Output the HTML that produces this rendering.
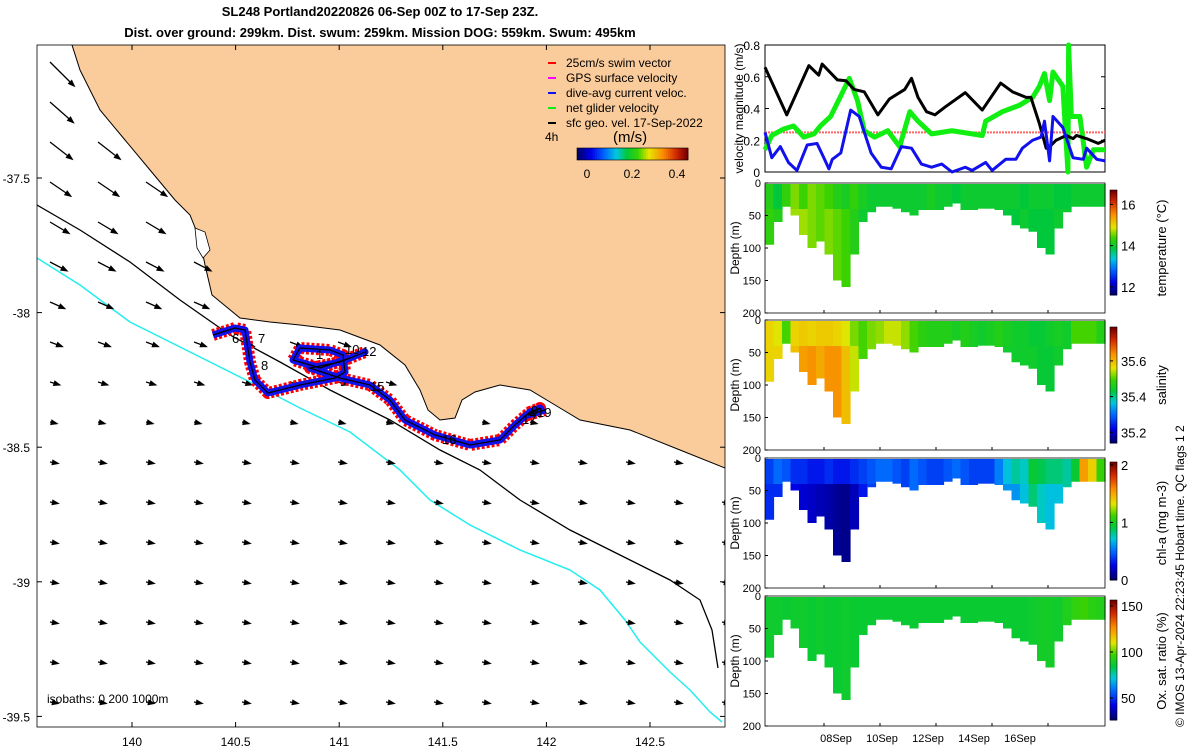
<!DOCTYPE html>
<html><head><meta charset="utf-8"><style>
body{margin:0;background:#fff;width:1200px;height:750px;overflow:hidden;font-family:"Liberation Sans",sans-serif}
svg text{font-family:"Liberation Sans",sans-serif}
</style></head><body>
<svg id="s" width="1200" height="750" xmlns="http://www.w3.org/2000/svg">
<g font-weight="bold" font-size="13" text-anchor="middle">
<text x="380" y="16">SL248 Portland20220826 06-Sep 00Z to 17-Sep 23Z.</text>
<text x="380" y="37">Dist. over ground: 299km. Dist. swum: 259km. Mission DOG: 559km. Swum: 495km</text>
</g>
<g id="map"></g>
<g id="line"></g>
<g id="heat"></g>
<text transform="translate(1184,727) rotate(-90)" font-size="12">© IMOS 13-Apr-2024 22:23:45 Hobart time. QC flags 1  2</text>
</svg>
<script>
const NS="http://www.w3.org/2000/svg";
function mk(p,t,a){const e=document.createElementNS(NS,t);for(const k in a)e.setAttribute(k,a[k]);p.appendChild(e);return e;}
const CM=[[0,0,0,110],[.12,0,0,230],[.25,0,110,255],[.35,0,200,220],[.45,0,200,60],[.55,60,210,0],[.65,230,230,0],[.78,250,140,0],[.9,210,40,0],[1,120,0,0]];
function jet(v){v=Math.max(0,Math.min(1,v));for(let i=0;i<CM.length-1;i++){const a=CM[i],b=CM[i+1];if(v<=b[0]){const f=(v-a[0])/(b[0]-a[0]);return `rgb(${Math.round(a[1]+(b[1]-a[1])*f)},${Math.round(a[2]+(b[2]-a[2])*f)},${Math.round(a[3]+(b[3]-a[3])*f)})`;}}return 'rgb(120,0,0)';}

// ---------- velocity chart data ----------
const blackT=[0,.064,.129,.158,.168,.213,.238,.262,.292,.332,.366,.411,.431,.450,.475,.500,.530,.589,.639,.693,.728,.768,.782,.807,.827,.842,.856,.886,.906,.916,.946,.980,1];
const blackV=[.66,.36,.67,.61,.68,.58,.575,.52,.505,.36,.46,.52,.59,.47,.38,.36,.41,.50,.39,.56,.505,.47,.47,.305,.15,.17,.2,.23,.21,.23,.21,.18,.2];
const blueT=[0,.02,.045,.069,.094,.124,.153,.173,.188,.198,.223,.252,.277,.312,.342,.371,.401,.431,.460,.490,.520,.550,.589,.609,.649,.668,.708,.738,.757,.787,.812,.822,.837,.847,.876,.906,.936,.946,.976,1];
const blueV=[.25,.09,.16,.06,.01,.17,.18,.09,.02,.08,.12,.39,.35,.12,.03,.02,.16,.15,.05,.03,.05,0,.03,.01,.06,.01,.08,.08,.15,.2,.22,.32,.07,.35,.28,.09,.08,.15,.08,.07];
const greenT=[0,.02,.054,.084,.114,.144,.163,.193,.223,.248,.272,.292,.322,.361,.396,.426,.450,.490,.550,.609,.639,.649,.698,.748,.787,.807,.822,.837,.847,.876,.891,.893,.901,.926,.946,.966,1];
const greenV=[.14,.23,.27,.29,.22,.24,.29,.35,.48,.59,.45,.26,.22,.26,.16,.38,.32,.24,.26,.24,.23,.32,.38,.42,.47,.54,.62,.45,.63,.54,0,.8,.35,.35,.03,.14,.14];
const vTicks=[0,0.2,0.4,0.6,0.8];
(function(){
 const g=document.getElementById('line');const X0=765,X1=1105,Y0=172,Y1=45;
 const xs=t=>X0+t*(X1-X0), ys=v=>Y0-(v/0.8)*(Y0-Y1);
 mk(g,'rect',{x:X0,y:Y1,width:X1-X0,height:Y0-Y1,fill:'#fff',stroke:'#000','stroke-width':1});
 vTicks.forEach(v=>{const t=mk(g,'text',{x:X0-5,y:ys(v)+5,'text-anchor':'end','font-size':12});t.textContent=v;
  mk(g,'line',{x1:X0,x2:X0+4,y1:ys(v),y2:ys(v),stroke:'#000'});mk(g,'line',{x1:X1,x2:X1-4,y1:ys(v),y2:ys(v),stroke:'#000'});});
 const yl=mk(g,'text',{transform:`translate(743,${(Y0+Y1)/2}) rotate(-90)`,'text-anchor':'middle','font-size':12});yl.textContent='velocity magnitude (m/s)';
 
 const rl=mk(g,'line',{x1:X0,x2:X1,y1:ys(.25),y2:ys(.25),stroke:'#f66',"stroke-width":2,"stroke-dasharray":"2 1"});
 function pl(T,V,c,w,n){const p=mk(g,'polyline',{points:T.map((t,i)=>xs(t)+','+ys(V[i])).join(' '),fill:'none',stroke:c,'stroke-width':w,'stroke-linejoin':'round'});}
 pl(greenT,greenV,'#1e1',5,'net-glider-velocity-line');
 pl(blackT,blackV,'#000',3,'surface-geo-velocity-line');
 pl(blueT,blueV,'#11e',3,'dive-avg-current-line');
})();

// ---------- sections ----------
const maxDepth=[95,60,35,50,80,100,90,110,150,160,110,60,45,35,35,38,45,50,40,40,40,35,30,40,40,38,38,40,50,65,70,75,100,110,70,45,35,35,35,35];
const tempSurf=[14.2,13.9,14.3,14.6,14.4,14.6,14.5,14.4,14.2,14.1,14.3,14.1,14.0,14.0,14.0,14.0,14.0,14.0,14.0,14.1,14.0,14.0,13.9,14.0,14.0,14.0,14.0,14.0,14.0,14.0,13.9,14.0,14.0,14.0,13.9,13.9,14.0,14.0,14.0,14.0];
const tempDeep=[14.3,14.2,14.4,14.7,14.7,14.6,14.5,14.6,14.5,14.4,14.2,14.0,14,14,14,14,14,14,14,14,14,14,14,14,14,14,14,14,13.9,13.9,14,13.9,13.9,13.9,14,14,14,14,14,14];
const salSurf=[35.58,35.56,35.5,35.58,35.59,35.58,35.59,35.59,35.58,35.56,35.52,35.5,35.52,35.53,35.55,35.55,35.53,35.5,35.48,35.47,35.47,35.47,35.46,35.47,35.46,35.45,35.46,35.47,35.46,35.45,35.45,35.44,35.44,35.45,35.46,35.45,35.5,35.5,35.5,35.47];
const salDeep=[35.58,35.58,35.55,35.6,35.63,35.64,35.62,35.64,35.64,35.6,35.55,35.5,35.52,35.53,35.55,35.55,35.53,35.5,35.48,35.47,35.47,35.47,35.46,35.47,35.46,35.45,35.46,35.47,35.45,35.45,35.45,35.45,35.44,35.44,35.45,35.45,35.5,35.5,35.5,35.47];
const chlSurf=[.4,.5,.45,.35,.35,.3,.3,.35,.3,.3,.35,.4,.45,.5,.5,.45,.4,.5,.45,.4,.4,.45,.5,.45,.4,.4,.4,.55,.7,.8,.75,.95,.9,.85,.85,.8,.95,1.55,1.4,1.1];
const chlDeep=[.35,.35,.3,.25,.2,.18,.15,.12,.08,.06,.15,.3,.4,.45,.5,.45,.4,.5,.45,.4,.4,.45,.5,.45,.4,.4,.4,.5,.6,.6,.7,.85,.75,.7,.7,.8,.95,1.5,1.3,1.1];
const oxSurf=[88,88,87,88,88,87,88,87,87,88,87,87,87,87,87,87,87,87,87,87,87,87,87,87,87,87,87,87,87,87,87,88,89,89,88,92,95,97,94,92];
const depthTicks=[0,50,100,150,200];
const dateLabels=['08Sep','10Sep','12Sep','14Sep','16Sep'];
const dateDays=[8,10,12,14,16];
(function(){
 const g=document.getElementById('heat');const X0=765,X1=1105;
 const panels=[
  {y:183,s:tempSurf,d:tempDeep,lo:11.6,hi:16.7,c0:190,c1:295,ticks:[12,14,16],lab:'temperature (°C)',n:'temperature'},
  {y:320,s:salSurf,d:salDeep,lo:35.14,hi:35.79,c0:327,c1:443,ticks:[35.2,35.4,35.6],lab:'salinity',n:'salinity'},
  {y:458,s:chlSurf,d:chlDeep,lo:0,hi:2.05,c0:462,c1:580,ticks:[0,1,2],lab:'chl-a (mg m-3)',n:'chlorophyll'},
  {y:596,s:oxSurf,d:oxSurf,lo:26,hi:156.5,c0:600,c1:720,ticks:[50,100,150],lab:'Ox. sat. ratio (%)',n:'oxygen'}];
 const H=130,cw=(X1-X0)/maxDepth.length;
 const dx=d=>836+(d-8)*23, tx=d=>824+(d-8)*28;
 panels.forEach((p,pi)=>{
  const pg=mk(g,'g',{});
  const ys=d=>p.y+d/200*H;
  mk(pg,'rect',{x:X0,y:p.y,width:X1-X0,height:H,fill:'#fff'});
  const n=(v)=>(v-p.lo)/(p.hi-p.lo);
  maxDepth.forEach((md,i)=>{
   const x=X0+i*cw;
   const c1=mk(pg,'rect',{x:x,y:p.y+1,width:cw+0.6,height:Math.min(md,40)/200*H,fill:jet(n(p.s[i]))});
   
   if(md>40){const c2=mk(pg,'rect',{x:x,y:ys(40),width:cw+0.6,height:(md-40)/200*H,fill:jet(n(p.d[i]))});
    }
  });
  mk(pg,'rect',{x:X0,y:p.y,width:X1-X0,height:H,fill:'none',stroke:'#000','stroke-width':.8});
  depthTicks.forEach(d=>{const t=mk(pg,'text',{x:X0-4,y:ys(d)+4,'text-anchor':'end','font-size':11});t.textContent=d;
   
   mk(pg,'line',{x1:X0,x2:X0+3,y1:ys(d),y2:ys(d),stroke:'#000'});});
  dateDays.forEach(d=>mk(pg,'line',{x1:tx(d),x2:tx(d),y1:p.y+H,y2:p.y+H-3,stroke:'#000'}));
  const yl=mk(pg,'text',{transform:`translate(739,${p.y+H/2}) rotate(-90)`,'text-anchor':'middle','font-size':12});yl.textContent='Depth (m)';
  
  const cy0=p.c0,cy1=p.c1;
  for(let k=0;k<60;k++){mk(pg,'rect',{x:1110,y:cy1-(k+1)*(cy1-cy0)/60,width:7,height:(cy1-cy0)/60+0.5,fill:jet(k/59)});}
  const cb=mk(pg,'rect',{x:1110,y:cy0,width:7,height:cy1-cy0,fill:'none',stroke:'#000','stroke-width':.6});
  
  p.ticks.forEach(t=>{const yy=cy1-(t-p.lo)/(p.hi-p.lo)*(cy1-cy0);
   mk(pg,'line',{x1:1110,x2:1113,y1:yy,y2:yy,stroke:'#000'});
   const tt=mk(pg,'text',{x:1121,y:yy+5,'font-size':13});tt.textContent=t;});
  const cl=mk(pg,'text',{transform:`translate(1166,${p.y+H/2}) rotate(-90)`,'text-anchor':'middle','font-size':13});cl.textContent=p.lab;
  
 });
 dateLabels.forEach((l,i)=>{const t=mk(g,'text',{x:dx(dateDays[i]),y:742,'text-anchor':'middle','font-size':11});t.textContent=l;
  });
})();

// ---------- map ----------
const coast=[[72,45],[80,70],[100,110],[125,140],[150,170],[175,200],[190,215],[200,240],[205,265],[212,295],[240,318],[270,322],[300,325],[340,330],[380,345],[405,365],[420,390],[428,410],[440,420],[455,418],[462,400],[475,392],[500,385],[530,390],[555,405],[580,420],[630,430],[680,450],[725,468]];
const iso200=[[37,205],[80,230],[130,262],[180,300],[230,335],[280,362],[330,390],[390,420],[440,450],[480,470],[520,500],[570,530],[620,555],[670,580],[700,600],[712,630],[718,668]];
const iso1000=[[37,258],[80,285],[130,322],[190,352],[250,382],[300,408],[350,432],[400,470],[430,500],[470,525],[520,550],[570,570],[600,590],[625,620],[640,642],[670,672],[690,690],[710,712],[722,722]];
const track=[[213,335],[235,328],[245,330],[250,362],[255,380],[268,393],[300,385],[335,378],[345,372],[343,355],[330,350],[300,348],[293,360],[320,368],[350,358],[365,352],[340,362],[310,368],[340,378],[370,385],[390,400],[405,420],[435,435],[470,445],[500,440],[515,425],[530,412],[540,408],[528,415],[545,410]];
const xTicks=[140,140.5,141,141.5,142,142.5];
const yTicks=[-37.5,-38,-38.5,-39,-39.5];
(function(){
 const g=document.getElementById('map');const L=37,R=725,T=45,B=727;
 const lx=v=>132+(v-140)*207.2, ly=v=>178+(-37.5-v)*269.2;
 const cl=mk(g,'clipPath',{id:'mc'});mk(cl,'rect',{x:L,y:T,width:R-L,height:B-T});
 const inner=mk(g,'g',{'clip-path':'url(#mc)'});
 mk(inner,'rect',{x:L,y:T,width:R-L,height:B-T,fill:'#fff'});
 const land=mk(inner,'polygon',{points:coast.map(p=>p.join(',')).join(' ')+` ${R+5},468 ${R+5},${T-5} 72,${T-5}`,fill:'#FACB9B',stroke:'#000','stroke-width':1});
 
 const isl=mk(inner,'path',{d:'M195,228 L205,232 L210,250 L203,258 L197,248 Z',fill:'#fff',stroke:'#000','stroke-width':.8});
 
 const i2=mk(inner,'polyline',{points:iso200.map(p=>p.join(',')).join(' '),fill:'none',stroke:'#000','stroke-width':1.3});
 
 const i1=mk(inner,'polyline',{points:iso1000.map(p=>p.join(',')).join(' '),fill:'none',stroke:'#2ee',"stroke-width":1.5});
 
 function coastY(x){for(let i=0;i<coast.length-1;i++){if(x>=coast[i][0]&&x<=coast[i+1][0]){const a=coast[i],b=coast[i+1];return a[1]+(b[1]-a[1])*(x-a[0])/(b[0]-a[0]);}}return x<coast[0][0]?-9999:468;}
 for(let y=62;y<B;y+=40)for(let x=50;x<R;x+=48){
  if(x>=72&&y<coastY(x)+12)continue;
  const f=Math.max(0,(460-y)/400);const len=4+30*f+(y>430?4:0);const ang=(10+35*f)*Math.PI/180;
  const ex=x+len*Math.cos(ang),ey=y+len*Math.sin(ang);
  const a=mk(inner,'line',{x1:x,y1:y,x2:ex,y2:ey,stroke:'#000','stroke-width':1.3});
  const hx=Math.cos(ang),hy=Math.sin(ang);
  mk(inner,'polygon',{points:`${ex+hx*2},${ey+hy*2} ${ex-hx*6-hy*3},${ey-hy*6+hx*3} ${ex-hx*6+hy*3},${ey-hy*6-hx*3}`,fill:'#000'});
 }
 const pts=track.map(p=>p.join(',')).join(' ');
 mk(inner,'polyline',{points:pts,fill:'none',stroke:'#f00','stroke-width':12,'stroke-linejoin':'round','stroke-dasharray':'3 2'});
 const tb=mk(inner,'polyline',{points:pts,fill:'none',stroke:'#11e','stroke-width':7,'stroke-linejoin':'round'});
 
 mk(inner,'polyline',{points:pts,fill:'none',stroke:'#000','stroke-width':1.2});
 [['6',232,343],['7',258,343],['8',261,370],['1',316,359],['10',345,354],['12',362,356],['15',370,391],['16',442,444],['17',522,424],['19',537,417],['9',531,415]].forEach(l=>{const t=mk(inner,'text',{x:l[1],y:l[2],'font-size':13});t.textContent=l[0];});
 mk(g,'rect',{x:L,y:T,width:R-L,height:B-T,fill:'none',stroke:'#000','stroke-width':.8});
 xTicks.forEach(v=>{const t=mk(g,'text',{x:lx(v),y:746,'text-anchor':'middle','font-size':12});t.textContent=v;
  mk(g,'line',{x1:lx(v),x2:lx(v),y1:B,y2:B-5,stroke:'#000'});mk(g,'line',{x1:lx(v),x2:lx(v),y1:T,y2:T+5,stroke:'#000'});});
 yTicks.forEach(v=>{const t=mk(g,'text',{x:30,y:ly(v)+5,'text-anchor':'end','font-size':12});t.textContent=v;
  mk(g,'line',{x1:L,x2:L+5,y1:ly(v),y2:ly(v),stroke:'#000'});mk(g,'line',{x1:R,x2:R-5,y1:ly(v),y2:ly(v),stroke:'#000'});});
 const iso=mk(g,'text',{x:47,y:703,'font-size':12});iso.textContent='isobaths: 0   200  1000m';
 const lg=mk(g,'g',{'font-size':12});
 [['#f00','25cm/s swim vector'],['#f0f','GPS surface velocity'],['#11e','dive-avg current veloc.'],['#1e1','net glider velocity'],['#000','sfc geo. vel. 17-Sep-2022']].forEach((e,i)=>{
  const y=63+i*15;const le=mk(lg,'g',{});
  mk(le,'line',{x1:548,x2:556,y1:y,y2:y,stroke:e[0],'stroke-width':2});const t=mk(le,'text',{x:566,y:y+4});t.textContent=e[1];});
 const h=mk(g,'text',{x:545,y:141,'font-size':12});h.textContent='4h';
 const u=mk(g,'text',{x:613,y:142,'font-size':15});u.textContent='(m/s)';
 for(let k=0;k<50;k++)mk(g,'rect',{x:577+k*111/50,y:148,width:111/50+0.4,height:12,fill:jet(k/49)});
 const mcb=mk(g,'rect',{x:577,y:148,width:111,height:12,fill:'none',stroke:'#000','stroke-width':.6});
 [['0',587],['0.2',632],['0.4',677]].forEach(c=>{const t=mk(g,'text',{x:c[1],y:178,'text-anchor':'middle','font-size':12});t.textContent=c[0];});
})();
</script>
</body></html>
